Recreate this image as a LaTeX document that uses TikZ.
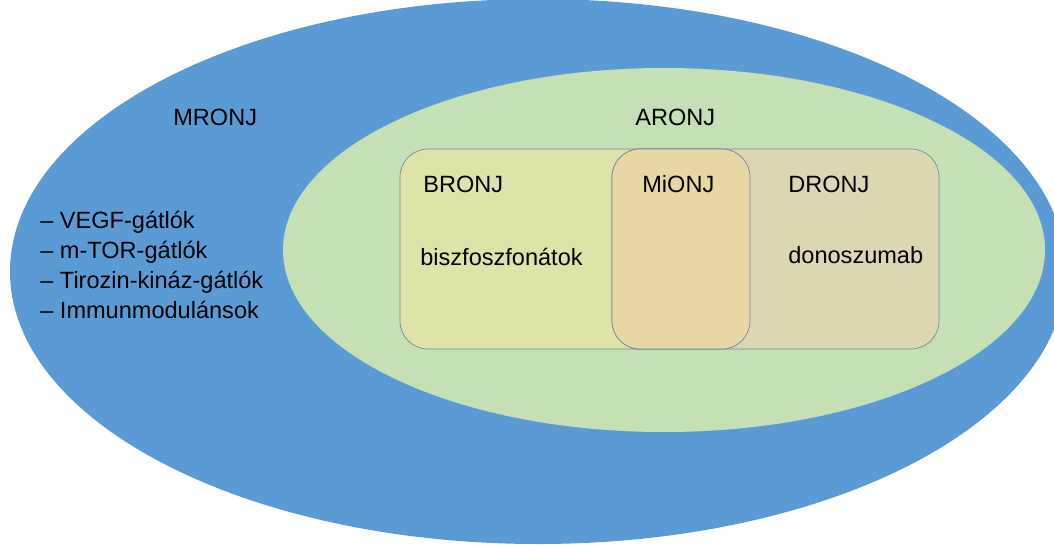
\documentclass[tikz,border=0pt]{standalone}
\usepackage{fontspec}
\setmainfont{Liberation Sans}
\usepackage{tikz}
\usepackage{xcolor}
\definecolor{mblue}{RGB}{91,155,213}
\definecolor{agreen}{RGB}{197,224,180}
\definecolor{byellow}{RGB}{223,227,168}
\definecolor{mitan}{RGB}{233,214,165}
\definecolor{dtan}{RGB}{221,214,178}
\definecolor{rimgray}{RGB}{112,136,160}

\begin{document}
\begin{tikzpicture}[font=\fontsize{13.4}{16}\selectfont, lbl/.style={anchor=base west, inner sep=0pt}]
    \useasboundingbox (0,0) rectangle (21.08,10.9);
    \clip (0,0) rectangle (21.08,10.9);
    \fill[mblue] (10.76,5.47) ellipse [x radius=10.56cm, y radius=5.45cm];
    \fill[agreen] (13.28,5.90) ellipse [x radius=7.62cm, y radius=3.64cm];
    \draw[rimgray, fill=byellow, rounded corners=0.56cm] (8.00,3.92) rectangle (15.00,7.92);
    \draw[rimgray, fill=dtan, rounded corners=0.56cm] (12.24,3.92) rectangle (18.78,7.92);
    \draw[rimgray, fill=mitan, rounded corners=0.56cm] (12.24,3.92) rectangle (15.00,7.92);
    \node[lbl] (mronj) at (3.46,8.40) {MRONJ};
    \node[lbl] (aronj) at (12.70,8.40) {ARONJ};
    \node[lbl] (bronj) at (8.46,7.06) {BRONJ};
    \node[lbl] (mionj) at (12.84,7.06) {MiONJ};
    \node[lbl] (dronj) at (15.76,7.06) {DRONJ};
    \node[lbl] (bisz) at (8.40,5.60) {biszfoszfonátok};
    \node[lbl] (dono) at (15.76,5.64) {donoszumab};
    \node[lbl] (vegf) at (0.80,6.34) {– VEGF-gátlók};
    \node[lbl] (mtor) at (0.80,5.74) {– m-TOR-gátlók};
    \node[lbl] (tiroz) at (0.80,5.14) {– Tirozin-kináz-gátlók};
    \node[lbl] (immun) at (0.80,4.54) {– Immunmodulánsok};
  \end{tikzpicture}
\end{document}
